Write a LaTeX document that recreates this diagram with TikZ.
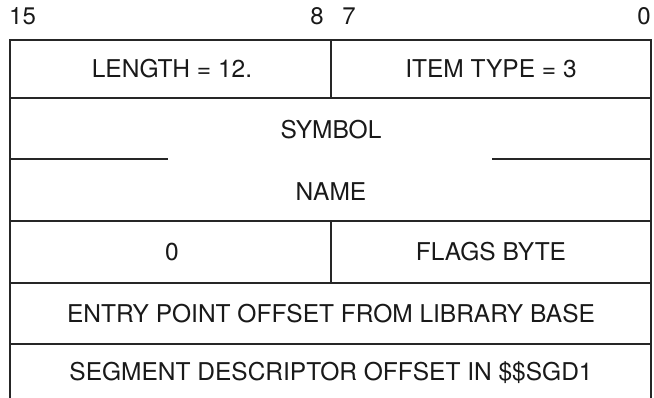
\documentclass[tikz,border=0pt]{standalone}
\usepackage{fontspec}
\setmainfont{TeX Gyre Heros}
\begin{document}
\begin{tikzpicture}[x=1pt,y=-1pt,
  rule/.style={line width=1.6pt, draw=black!85},
  lbl/.style={font=\fontsize{24.5}{28}\selectfont, text=black!90, inner sep=0pt},
  bit/.style={font=\fontsize{24}{28}\selectfont, text=black!90, inner sep=0pt}]
\useasboundingbox (0,0) rectangle (654,398);
% bit numbers
\node[bit, anchor=west] (b15) at (9,16) {15};
\node[bit] (b8) at (317,16) {8};
\node[bit] (b7) at (349,16) {7};
\node[bit, anchor=east] (b0) at (651,16) {0};
% frame
\draw[rule] (10,398) -- (10,40) -- (651,40) -- (651,398);
\draw[rule] (10,98) -- (651,98);
\draw[rule] (10,159) -- (168,159);
\draw[rule] (492,159) -- (651,159);
\draw[rule] (10,221) -- (651,221);
\draw[rule] (10,283) -- (651,283);
\draw[rule] (10,344) -- (651,344);
\draw[rule] (331,40) -- (331,98);
\draw[rule] (331,221) -- (331,283);
% labels
\node[lbl] (len) at (172,69) {LENGTH = 12.};
\node[lbl] (itm) at (491,69) {ITEM TYPE = 3};
\node[lbl] (sym) at (331,130) {SYMBOL};
\node[lbl] (nam) at (331,192) {NAME};
\node[lbl] (zer) at (172,252) {0};
\node[lbl] (flg) at (491,252) {FLAGS BYTE};
\node[lbl] (ent) at (331,314) {ENTRY POINT OFFSET FROM LIBRARY BASE};
\node[lbl] (seg) at (331,373) {SEGMENT DESCRIPTOR OFFSET IN \$\$SGD1};
\end{tikzpicture}
\end{document}
